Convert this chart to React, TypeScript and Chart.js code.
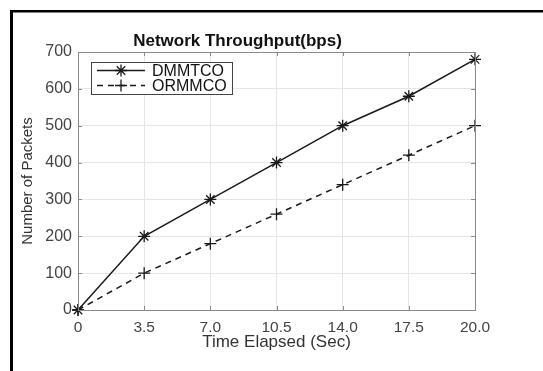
import React, { useEffect, useRef } from "react";
import { Chart, registerables } from "chart.js";

Chart.register(...registerables);

const timeLabels = ["0", "3.5", "7.0", "10.5", "14.0", "17.5", "20.0"];
const dmmtcoValues = [0, 200, 300, 400, 500, 580, 680];
const ormmcoValues = [0, 100, 180, 260, 340, 420, 500];
const seriesNames = ["DMMTCO", "ORMMCO"];
const chartTitle = "Network Throughput(bps)";
const xTitle = "Time Elapsed (Sec)";
const yTitle = "Number of Packets";

const FONT = "'Liberation Sans', Arial, Helvetica, sans-serif";
const LINE = "#1a1a1a";

const framePlugin = {
  id: "frame",
  beforeDraw(chart: any) {
    const { ctx, width, height } = chart;
    ctx.save();
    ctx.fillStyle = "#fff";
    ctx.fillRect(0, 0, width, height);
    ctx.fillStyle = "#000";
    ctx.fillRect(10, 10, width - 10, 2.5);
    ctx.fillRect(10, 10, 3, height - 10);
    ctx.restore();
  },
  afterDraw(chart: any) {
    const { ctx, chartArea } = chart;
    const { left, right, top, bottom } = chartArea;
    ctx.save();
    ctx.strokeStyle = "#8a8a8a";
    ctx.lineWidth = 1;
    ctx.strokeRect(left + 0.5, top + 0.5, right - left, bottom - top);
    const xs = chart.scales.x;
    const ys = chart.scales.y;
    ctx.beginPath();
    for (let i = 0; i < timeLabels.length; i++) {
      const x = Math.round(xs.getPixelForValue(i)) + 0.5;
      ctx.moveTo(x, top);
      ctx.lineTo(x, top + 4);
      ctx.moveTo(x, bottom);
      ctx.lineTo(x, bottom - 4);
    }
    for (let v = 0; v <= 700; v += 100) {
      const y = Math.round(ys.getPixelForValue(v)) + 0.5;
      ctx.moveTo(left, y);
      ctx.lineTo(left + 4, y);
      ctx.moveTo(right, y);
      ctx.lineTo(right - 4, y);
    }
    ctx.stroke();
    ctx.restore();

    // legend
    const bx = 91, by = 62, bw = 141, bh = 32;
    ctx.save();
    ctx.fillStyle = "#fff";
    ctx.fillRect(bx, by, bw, bh);
    ctx.strokeStyle = "#444";
    ctx.lineWidth = 1;
    ctx.strokeRect(bx + 0.5, by + 0.5, bw, bh);
    const rows = [by + 8.5, by + 23.5];
    chart.data.datasets.forEach((ds: any, i: number) => {
      const y = rows[i];
      ctx.strokeStyle = LINE;
      ctx.lineWidth = 1.5;
      ctx.setLineDash(ds.borderDash || []);
      ctx.beginPath();
      ctx.moveTo(bx + 6, y);
      ctx.lineTo(bx + 54, y);
      ctx.stroke();
      ctx.setLineDash([]);
      ctx.lineWidth = 1.3;
      const r = ds.pointRadius;
      const cx = bx + 30;
      ctx.beginPath();
      ctx.moveTo(cx - r, y);
      ctx.lineTo(cx + r, y);
      ctx.moveTo(cx, y - r);
      ctx.lineTo(cx, y + r);
      if (ds.pointStyle === "star") {
        const d = r * Math.SQRT1_2;
        ctx.moveTo(cx - d, y - d);
        ctx.lineTo(cx + d, y + d);
        ctx.moveTo(cx - d, y + d);
        ctx.lineTo(cx + d, y - d);
      }
      ctx.stroke();
      ctx.fillStyle = "#111";
      ctx.font = `16px ${FONT}`;
      ctx.textBaseline = "middle";
      ctx.textAlign = "left";
      ctx.fillText(ds.label, bx + 61, y + 1);
    });
    ctx.restore();
  },
};

export default function App() {
  const ref = useRef<HTMLCanvasElement | null>(null);
  useEffect(() => {
    if (!ref.current) return;
    const chart = new Chart(ref.current, {
      type: "line",
      data: {
        labels: timeLabels,
        datasets: [
          {
            label: seriesNames[0],
            data: dmmtcoValues,
            borderColor: LINE,
            borderWidth: 1.5,
            pointStyle: "star",
            pointRadius: 6,
            pointBorderWidth: 1.3,
            pointBorderColor: LINE,
            pointBackgroundColor: LINE,
            fill: false,
            tension: 0,
            clip: false as any,
          },
          {
            label: seriesNames[1],
            data: ormmcoValues,
            borderColor: LINE,
            borderWidth: 1.5,
            borderDash: [6, 5],
            pointStyle: "cross",
            pointRadius: 6,
            pointBorderWidth: 1.3,
            pointBorderColor: LINE,
            pointBackgroundColor: LINE,
            fill: false,
            tension: 0,
            clip: false as any,
          },
        ],
      },
      options: {
        responsive: false,
        animation: false,
        devicePixelRatio: 1,
        layout: { padding: { left: 0, right: 68, top: 0, bottom: 0 } },
        plugins: {
          legend: { display: false },
          tooltip: { enabled: false },
          title: {
            display: true,
            text: chartTitle,
            color: "#111",
            font: { family: FONT, size: 17, weight: "bold" },
            padding: { top: 31.5, bottom: 0.1 },
          },
        },
        scales: {
          x: {
            type: "category",
            offset: false,
            grid: { color: "#e6e6e6", drawTicks: false },
            border: { display: false },
            ticks: {
              color: "#444",
              font: { family: FONT, size: 15.5 },
              padding: 8,
              maxRotation: 0,
              autoSkip: false,
            },
            title: {
              display: true,
              text: xTitle,
              color: "#333",
              font: { family: FONT, size: 17 },
              padding: { top: 0, bottom: 18 },
            },
            afterFit(scale: any) {
              scale.height = 61;
            },
          },
          y: {
            min: 0,
            max: 700,
            grid: { color: "#e6e6e6", drawTicks: false },
            border: { display: false },
            ticks: {
              stepSize: 100,
              color: "#444",
              font: { family: FONT, size: 16 },
              padding: 6,
            },
            title: {
              display: true,
              text: yTitle,
              color: "#333",
              font: { family: FONT, size: 15 },
              padding: { top: 19, bottom: 0 },
            },
            afterFit(scale: any) {
              scale.width = 78;
            },
          },
        },
      },
      plugins: [framePlugin],
    });
    return () => chart.destroy();
  }, []);
  return (
    <div style={{ position: "absolute", left: 0, top: 0, width: 543, height: 371, background: "#fff" }}>
      <canvas ref={ref} width={543} height={371} style={{ display: "block", width: 543, height: 371 }} />
    </div>
  );
}
